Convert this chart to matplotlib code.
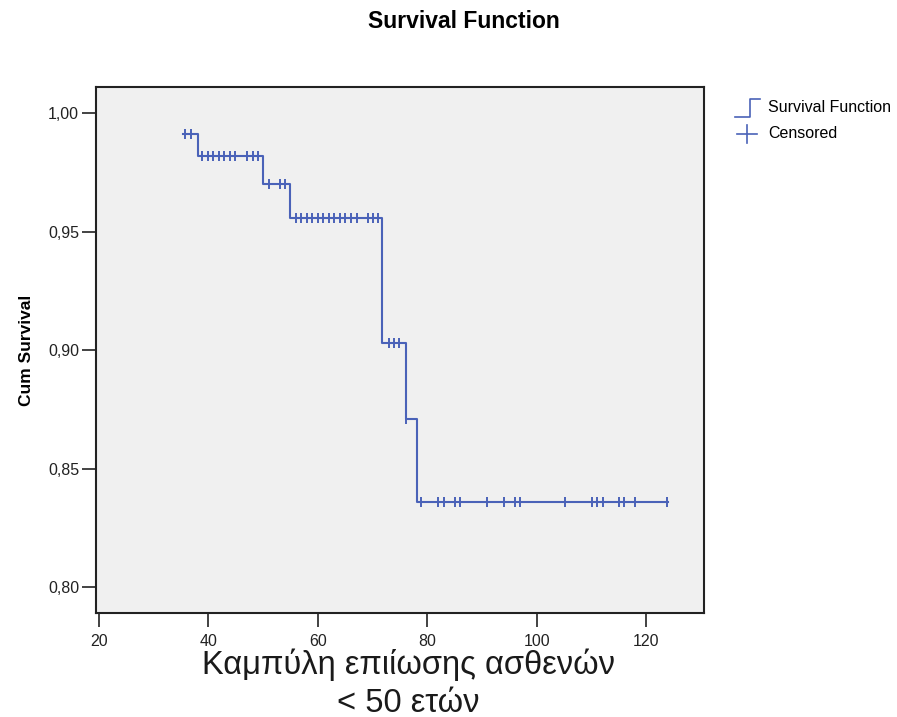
import matplotlib
matplotlib.use("Agg")
import matplotlib.pyplot as plt
from matplotlib.lines import Line2D
from matplotlib.ticker import FuncFormatter, MultipleLocator

plt.rcParams['font.family'] = ['Liberation Sans', 'DejaVu Sans']

# Kaplan-Meier steps: time where each level starts, and the level
step_times = [35.3, 38.05, 49.9, 54.9, 71.8, 76.1, 78.1]
step_surv = [0.9915, 0.982, 0.970, 0.956, 0.903, 0.871, 0.836]
end_time = 124.0

# censored observations (time, level)
cens_times = [35.7, 36.8,
              38.9, 39.9, 40.9, 41.9, 42.9, 44.0, 44.9, 47.1, 48.1, 49.1,
              51.0, 53.0, 54.0,
              56.0, 57.0, 58.0, 59.0, 60.0, 61.0, 62.0, 63.0, 64.0, 65.0,
              66.0, 67.1, 69.1, 70.1, 71.0,
              73.0, 74.0, 74.9,
              76.1,
              78.9, 82.0, 83.0, 85.1, 86.0, 91.0, 94.1, 96.1, 96.9, 105.1,
              110.2, 111.1, 112.1, 115.0, 116.0, 118.0, 123.9]
cens_surv = ([0.9915] * 2 + [0.982] * 10 + [0.970] * 3 + [0.956] * 15
             + [0.903] * 3 + [0.871] + [0.836] * 17)

blue = '#4a62b8'

fig = plt.figure(figsize=(8.97, 7.17), dpi=100)
ax = fig.add_axes([95.7/897, 1-613.3/717, 608.3/897, 526/717])
ax.set_facecolor('#f0f0f0')

xs = step_times + [end_time]
ys = step_surv + [step_surv[-1]]
ax.step(xs, ys, where='post', color=blue, lw=1.5)
ax.plot(cens_times, cens_surv, ls='none', marker='|', ms=7, mew=1.4, color=blue)

ax.set_xlim(19.4, 130.6)
ax.set_ylim(0.789, 1.011)
ax.xaxis.set_major_locator(MultipleLocator(20))
ax.yaxis.set_major_locator(MultipleLocator(0.05))
ax.yaxis.set_major_formatter(FuncFormatter(lambda v, p: f"{v:.2f}".replace('.', ',')))
ax.tick_params(direction='out', length=10, width=1.2, labelsize=11.5,
               colors='#222222', pad=2)
ax.tick_params(axis='x', pad=5)
for s in ax.spines.values():
    s.set_linewidth(1.5)
    s.set_color('#222222')

ax.set_ylabel('Cum Survival', fontsize=12.5, fontweight='bold', labelpad=10)
fig.text(464/897, 1-22/717, 'Survival Function', ha='center', va='center',
         fontsize=16.5, fontweight='bold')

# legend drawn by hand to get the step icon
fig.add_artist(Line2D([735/897, 750/897, 750/897, 760/897],
                      [1-117/717, 1-117/717, 1-99/717, 1-99/717],
                      color=blue, lw=1.2))
fig.add_artist(Line2D([737/897, 757/897], [1-134/717, 1-134/717], color=blue, lw=1.2))
fig.add_artist(Line2D([747/897, 747/897], [1-125/717, 1-143/717], color=blue, lw=1.2))
fig.text(768/897, 1-108/717, 'Survival Function', va='center', fontsize=11.5)
fig.text(768/897, 1-134/717, 'Censored', va='center', fontsize=11.5)

fig.text(408/897, 1-665/717, 'Καμπύλη επιίωσης ασθενών', ha='center', va='center',
         fontsize=23.5, color='#1a1a1a')
fig.text(408/897, 1-703/717, '< 50 ετών', ha='center', va='center', fontsize=23.5,
         color='#1a1a1a')

fig.savefig('out.png', dpi=100, facecolor='white')
